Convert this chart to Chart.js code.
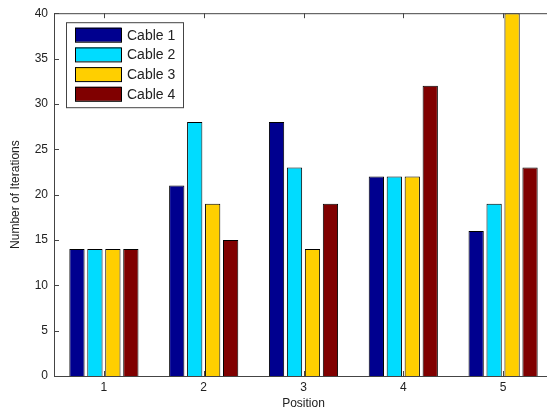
<!DOCTYPE html>
<html lang="en">
<head>
    <meta charset="UTF-8">
    <title>Number of Iterations by Position</title>
    <script src="https://cdn.jsdelivr.net/npm/chart.js"></script>
    <style>
        html, body { margin: 0; padding: 0; background: #fff; overflow: hidden; }
        #wrap { width: 547px; height: 412px; overflow: hidden; }
    </style>
</head>
<body>
    <div id="wrap"><canvas id="iterChart" width="575" height="412"></canvas></div>

    <script>
        // Data
        const positions = ['1', '2', '3', '4', '5'];
        const cable1 = [14, 21, 28, 22, 16];
        const cable2 = [14, 28, 23, 22, 19];
        const cable3 = [14, 19, 14, 22, 40];
        const cable4 = [14, 15, 19, 32, 23];
        const seriesNames = ['Cable 1', 'Cable 2', 'Cable 3', 'Cable 4'];
        const yTicks = [0, 5, 10, 15, 20, 25, 30, 35, 40];

        const colors = ['#00008f', '#00dcff', '#ffcf00', '#800000'];
        const axisColor = '#444';
        const fontFamily = "'Liberation Sans', Arial, sans-serif";

        // top edge of the box + inward tick marks (MATLAB style)
        // the right edge of the axes lies just past the picture edge
        const frameTicks = {
            id: 'frameTicks',
            afterDatasetsDraw(chart) {
                const { ctx, chartArea: a, scales } = chart;
                ctx.save();
                ctx.strokeStyle = axisColor;
                ctx.lineWidth = 1;
                ctx.beginPath();
                ctx.moveTo(a.left, a.top + 0.5);
                ctx.lineTo(a.right, a.top + 0.5);
                ctx.stroke();
                ctx.beginPath();
                yTicks.forEach(v => {
                    const y = Math.round(scales.y.getPixelForValue(v)) + 0.5;
                    ctx.moveTo(a.left, y); ctx.lineTo(a.left + 5, y);
                });
                positions.forEach((p, i) => {
                    const x = Math.round(scales.x.getPixelForValue(i)) + 0.5;
                    ctx.moveTo(x, a.bottom); ctx.lineTo(x, a.bottom - 5);
                    ctx.moveTo(x, a.top); ctx.lineTo(x, a.top + 5);
                });
                ctx.stroke();
                ctx.restore();
            }
        };

        // legend box inside the plot, top-left
        const boxLegend = {
            id: 'boxLegend',
            afterDraw(chart) {
                const { ctx, chartArea: a } = chart;
                const x0 = a.left + 12, y0 = a.top + 9;
                ctx.save();
                ctx.fillStyle = '#fff';
                ctx.fillRect(x0, y0, 117, 85);
                ctx.strokeStyle = axisColor;
                ctx.lineWidth = 1;
                ctx.strokeRect(x0 + 0.5, y0 + 0.5, 117, 85);
                ctx.font = '14px ' + fontFamily;
                ctx.textBaseline = 'middle';
                chart.data.datasets.forEach((ds, i) => {
                    const cy = y0 + 12.5 + i * 19.7;
                    ctx.fillStyle = ds.backgroundColor;
                    ctx.fillRect(x0 + 9, cy - 7, 46, 14);
                    ctx.strokeStyle = '#000';
                    ctx.strokeRect(x0 + 9.5, cy - 6.5, 46, 14);
                    ctx.fillStyle = '#222';
                    ctx.fillText(ds.label, x0 + 61, cy + 1);
                });
                ctx.restore();
            }
        };

        const allSeries = [cable1, cable2, cable3, cable4];

        new Chart(document.getElementById('iterChart'), {
            type: 'bar',
            data: {
                labels: positions,
                datasets: allSeries.map((vals, i) => ({
                    label: seriesNames[i],
                    data: vals,
                    backgroundColor: colors[i],
                    borderColor: '#000',
                    borderWidth: 1,
                    barPercentage: 0.85,
                    categoryPercentage: 0.72
                }))
            },
            options: {
                responsive: false,
                animation: false,
                layout: { padding: { top: 13, right: 22, left: 0, bottom: 0 } },
                plugins: {
                    legend: { display: false },
                    tooltip: { enabled: false }
                },
                scales: {
                    x: {
                        grid: { display: false, drawTicks: false },
                        border: { color: axisColor },
                        ticks: { color: '#222', padding: 4, font: { family: fontFamily, size: 12 } },
                        title: {
                            display: true, text: 'Position', color: '#222',
                            font: { family: fontFamily, size: 12 }, padding: { top: 0, bottom: 1 }
                        },
                        afterFit(s) { s.height = 36; }
                    },
                    y: {
                        min: 0, max: 40,
                        grid: { display: false, drawTicks: false },
                        border: { color: axisColor },
                        ticks: {
                            stepSize: 5, color: '#222', padding: 6,
                            font: { family: fontFamily, size: 12 }
                        },
                        title: {
                            display: true, text: 'Number of Iterations', color: '#222',
                            font: { family: fontFamily, size: 12 }, padding: { top: 8, bottom: 0 }
                        },
                        afterFit(s) { s.width = 54; }
                    }
                }
            },
            plugins: [frameTicks, boxLegend]
        });
    </script>
</body>
</html>
